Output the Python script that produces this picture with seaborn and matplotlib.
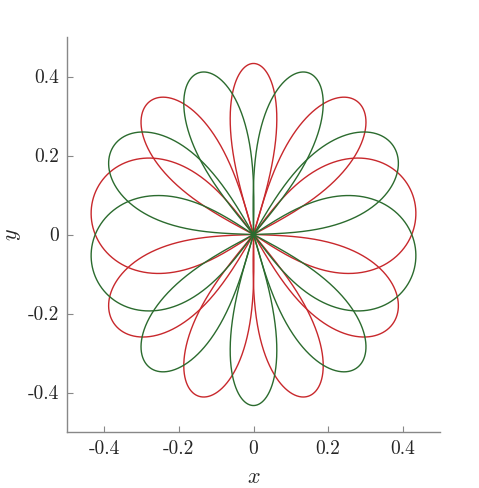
import numpy as np
import pandas as pd
import matplotlib
matplotlib.use("Agg")
import matplotlib.pyplot as plt
import seaborn as sns

# ---- data -------------------------------------------------------------
# petal axis directions (degrees), one list per colour
red_angles = [90, 130, 170, 210, 250, 290, 330, 10, 50]
green_angles = [270, 310, 350, 30, 70, 110, 150, 190, 230]
# petal tip distance from the centre
red_lengths = [0.433, 0.437, 0.44, 0.437, 0.435, 0.435, 0.437, 0.44, 0.437]
green_lengths = [0.433, 0.437, 0.44, 0.437, 0.435, 0.435, 0.437, 0.44, 0.437]
# petal widths (perpendicular to the petal axis)
red_widths = [0.125, 0.165, 0.29, 0.20, 0.15, 0.15, 0.20, 0.29, 0.165]
green_widths = [0.125, 0.165, 0.29, 0.20, 0.15, 0.15, 0.20, 0.29, 0.165]

tick_values = [-0.4, -0.2, 0, 0.2, 0.4]
tick_labels = ["-0.4", "-0.2", "0", "0.2", "0.4"]
x_label = "$x$"
y_label = "$y$"
colors = {"red": "#c8282c", "green": "#2b6b2e"}

# ---- petal geometry ------------------------------------------------------
PROFILE_P = 0.5
xs = np.linspace(0, 1, 400)


def petal_width(alpha, L):
    return 2 * L * np.max(np.sqrt(np.cos(np.pi * xs / 2)) * np.sin(alpha * xs))


def half_angle(W, L):
    lo, hi = 1e-3, 1.5
    for _ in range(60):
        mid = 0.5 * (lo + hi)
        if petal_width(mid, L) < W:
            lo = mid
        else:
            hi = mid
    return 0.5 * (lo + hi)


rows = []
pid = 0
for name, angs, lens, wids in [
    ("red", red_angles, red_lengths, red_widths),
    ("green", green_angles, green_lengths, green_widths),
]:
    for phi, L, W in zip(angs, lens, wids):
        a = half_angle(W, L)
        psi = np.linspace(-a, a, 600)
        r = L * np.clip(np.cos(np.pi * psi / (2 * a)), 0, None) ** PROFILE_P
        th = np.deg2rad(phi) + psi
        for xx, yy in zip(r * np.cos(th), r * np.sin(th)):
            rows.append((xx, yy, pid, name))
        pid += 1

df = pd.DataFrame(rows, columns=["x", "y", "petal", "curve"])

# ---- drawing ---------------------------------------------------------------
sns.set_style("ticks")
plt.rcParams["font.family"] = ["cmr10", "DejaVu Serif"]
plt.rcParams["mathtext.fontset"] = "cm"
plt.rcParams["axes.unicode_minus"] = False
plt.rcParams["axes.formatter.use_mathtext"] = False

fig = plt.figure(figsize=(4.79, 4.88), dpi=100)
ax = fig.add_axes([67 / 479, (488 - 432) / 488, 373 / 479, 395 / 488])

sns.lineplot(data=df, x="x", y="y", hue="curve", units="petal",
             estimator=None, sort=False, palette=colors, lw=1.0,
             legend=False, ax=ax)

ax.set_xlim(-0.5, 0.5)
ax.set_ylim(-0.5, 0.5)
ax.set_xticks(tick_values)
ax.set_xticklabels(tick_labels)
ax.set_yticks(tick_values)
ax.set_yticklabels(tick_labels)
ax.tick_params(direction="in", length=4, width=0.8, color="#888888",
               labelsize=14, pad=6)
for s in ["top", "right"]:
    ax.spines[s].set_visible(False)
for s in ["left", "bottom"]:
    ax.spines[s].set_color("#888888")
    ax.spines[s].set_linewidth(1.0)
ax.set_xlabel(x_label, fontsize=16, labelpad=7)
ax.set_ylabel(y_label, fontsize=16, labelpad=3)

fig.savefig("out.png", dpi=100)
